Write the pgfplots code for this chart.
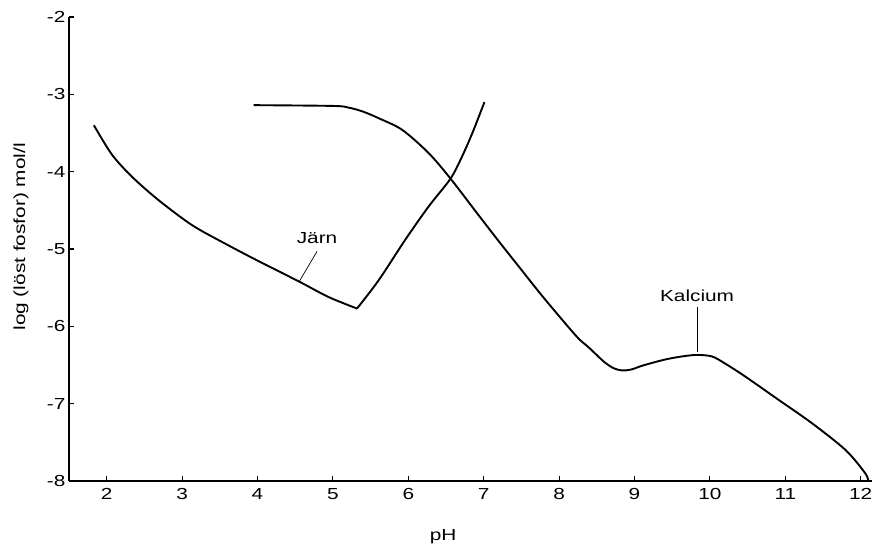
\documentclass[border=0pt]{standalone}
\usepackage{pgfplots}
\pgfplotsset{compat=1.18}
\usepackage{fontspec}
\setmainfont{Liberation Sans}[FakeStretch=1.3]

% Solubility of phosphate: iron branch (falling and rising part) and calcium branch
\pgfplotstableread{
ph    logp
1.83  -3.40
2.07  -3.78
2.34  -4.07
2.69  -4.37
3.13  -4.69
3.57  -4.93
4.02  -5.16
4.55  -5.42
4.94  -5.62
5.32  -5.77
}\jarnlow

\pgfplotstableread{
ph    logp
5.32  -5.77
5.61  -5.40
5.96  -4.88
6.27  -4.45
6.56  -4.09
6.71  -3.81
6.85  -3.50
7.01  -3.10
}\jarnhigh

\pgfplotstableread{
ph     logp
3.95   -3.14
5.00   -3.15
5.20   -3.17
5.39   -3.22
5.61   -3.31
5.92   -3.46
6.27   -3.76
6.56   -4.09
6.93   -4.56
7.20   -4.90
7.46   -5.22
7.77   -5.60
8.08   -5.96
8.26   -6.16
8.39   -6.27
8.53   -6.40
8.61   -6.47
8.72   -6.54
8.83   -6.57
8.95   -6.56
9.10   -6.51
9.32   -6.45
9.50   -6.41
9.70   -6.38
9.85   -6.37
10.03  -6.39
10.20  -6.48
10.47  -6.65
10.91  -6.95
11.35  -7.25
11.80  -7.60
12.06  -7.90
12.10  -8.00
}\kalcium

\pgfplotsset{curve/.style={black, no marks, line width=1.9pt, line join=round, smooth, tension=0.5}}

\begin{document}
\fontsize{16}{19}\selectfont
\begin{tikzpicture}
\begin{axis}[
  name=ax,
  scale only axis,
  width=803pt, height=464pt,
  xmin=1.5, xmax=12.15,
  ymin=-8, ymax=-2,
  axis x line*=bottom,
  axis y line*=left,
  axis line style={line width=1.3pt},
  tick align=inside,
  major tick length=5pt,
  tick style={line width=1.1pt, black},
  xtick={2,3,4,5,6,7,8,9,10,11,12},
  xticklabels={2,3,4,5,6,7,8,9,10,11,12},
  ytick={-8,-7,-6,-5,-4,-3,-2},
  yticklabels={-8,-7,-6,-5,-4,-3,-2},
  yticklabel style={xshift=2pt},
  xticklabel style={yshift=-2pt},
  xlabel={pH},
  xlabel style={at={([yshift=-56pt]axis description cs:0.466,0)}, anchor=center},
  ylabel={log (löst fosfor) mol/l},
  ylabel style={at={([xshift=-48pt]axis description cs:0,0.526)}, anchor=center},
  clip=false,
]
\addplot[curve] table[x=ph, y=logp] {\jarnlow};
\addplot[curve] table[x=ph, y=logp] {\jarnhigh};
\addplot[curve] table[x=ph, y=logp] {\kalcium};

\draw[black, line width=0.7pt] (axis cs:4.79,-5.03) -- (axis cs:4.56,-5.41);
\node[anchor=center] at (axis cs:4.79,-4.86) {Järn};
\draw[black, line width=1pt] (axis cs:9.84,-5.75) -- (axis cs:9.84,-6.33);
\node[anchor=center] at (axis cs:9.83,-5.61) {Kalcium};
\end{axis}
\pgfresetboundingbox
\path ([xshift=-69pt,yshift=-67pt]ax.south west) rectangle ([yshift=17pt]ax.north east);
\end{tikzpicture}
\end{document}
